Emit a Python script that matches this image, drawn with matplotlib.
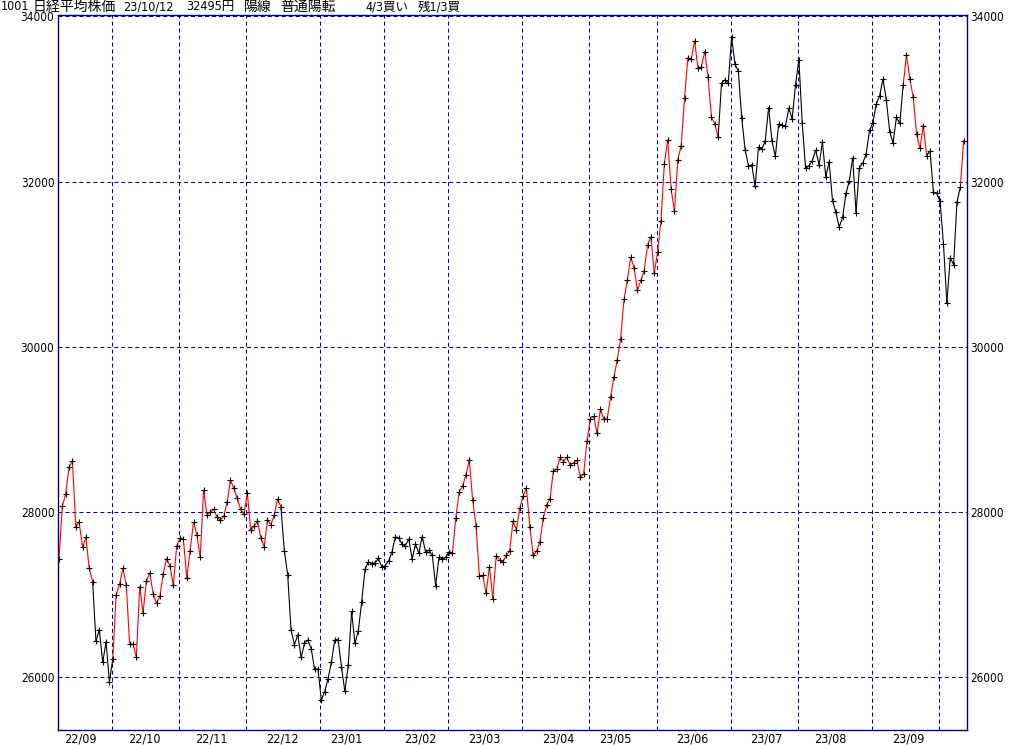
import matplotlib
matplotlib.use('Agg')
import matplotlib.pyplot as plt
from matplotlib.collections import LineCollection
import numpy as np
import pandas as pd

# daily closes, one list per month
sep22 = [27430, 28065, 28214, 28542, 28614, 27818, 27875, 27567, 27688, 27313, 27153, 26431, 26571, 26173, 26422, 25937]
oct22 = [26215, 26992, 27120, 27311, 27116, 26401, 26397, 26237, 27091, 26775, 27156, 27257, 27007, 26891, 26974, 27250, 27432, 27345, 27105, 27587]
nov22 = [27678, 27663, 27199, 27527, 27872, 27716, 27446, 28263, 27963, 27990, 28028, 27930, 27899, 27944, 28115, 28383, 28283, 28162, 28027, 27968]
dec22 = [28226, 27777, 27820, 27885, 27686, 27574, 27901, 27842, 27954, 28156, 28051, 27527, 27237, 26568, 26387, 26507, 26235, 26405, 26447, 26340, 26093, 26095]
jan23 = [25717, 25820, 25974, 26175, 26446, 26449, 26120, 25822, 26138, 26791, 26405, 26553, 26906, 27299, 27395, 27362, 27382, 27433, 27327]
feb23 = [27346, 27402, 27509, 27693, 27685, 27606, 27584, 27670, 27427, 27602, 27501, 27696, 27513, 27531, 27473, 27104, 27453, 27423, 27445]
mar23 = [27516, 27498, 27927, 28237, 28309, 28444, 28623, 28143, 27832, 27222, 27229, 27010, 27333, 26945, 27466, 27419, 27385, 27476, 27518, 27883, 27782, 28041]
apr23 = [28188, 28287, 27813, 27472, 27518, 27633, 27923, 28082, 28156, 28493, 28514, 28658, 28606, 28657, 28564, 28593, 28620, 28416, 28457, 28856]
may23 = [29123, 29157, 28949, 29242, 29122, 29126, 29388, 29626, 29842, 30093, 30573, 30808, 31086, 30957, 30682, 30801, 30916, 31233, 31328, 30887]
jun23 = [31148, 31524, 32217, 32506, 31913, 31641, 32265, 32434, 33018, 33502, 33485, 33706, 33370, 33388, 33575, 33264, 32781, 32698, 32538, 33193, 33234, 33189]
jul23 = [33753, 33422, 33338, 32773, 32388, 32189, 32203, 31943, 32419, 32391, 32493, 32896, 32490, 32304, 32700, 32682, 32668, 32891, 32759, 33172]
aug23 = [33476, 32707, 32159, 32192, 32254, 32377, 32204, 32473, 32059, 32238, 31766, 31626, 31450, 31565, 31856, 32010, 32287, 31624, 32169, 32226, 32333, 32619]
sep23 = [32710, 32939, 33036, 33241, 32991, 32606, 32467, 32776, 32706, 33168, 33533, 33242, 33023, 32571, 32402, 32678, 32315, 32371, 31872, 31857]
oct23 = [31759, 31237, 30526, 31075, 30994, 31746, 31936, 32495]

closes = np.array(sep22 + oct22 + nov22 + dec22 + jan23 + feb23 + mar23 + apr23
                  + may23 + jun23 + jul23 + aug23 + sep23 + oct23, dtype=float)

# market holidays on weekdays in the range
holidays = ['2022-09-19', '2022-09-23', '2022-10-10', '2022-11-03', '2022-11-23',
            '2023-01-02', '2023-01-03', '2023-01-09', '2023-02-23', '2023-03-21',
            '2023-05-03', '2023-05-04', '2023-05-05', '2023-07-17', '2023-08-11',
            '2023-09-18', '2023-10-09']
dates = pd.bdate_range('2022-09-07', '2023-10-12')
dates = dates[~dates.isin(pd.to_datetime(holidays))]
n = min(len(dates), len(closes))
dates, closes = dates[:n], closes[:n]

# periods drawn in red (uptrend signal)
red_runs = [('2022-09-07', '2022-09-22'), ('2022-10-03', '2022-12-15'),
            ('2023-03-02', '2023-06-27'), ('2023-09-14', '2023-09-26'),
            ('2023-10-11', '2023-10-12')]

yticks = [26000, 28000, 30000, 32000, 34000]
title_parts = ['1001', '日経平均株価', '23/10/12', '32495円', '陽線', '普通陽転', '4/3買い', '残1/3買']

navy = '#000080'
fam = ['DejaVu Sans', 'Noto Sans CJK JP']

x = np.arange(n)
in_red = np.zeros(n, dtype=bool)
for a, b in red_runs:
    in_red |= (dates >= pd.Timestamp(a)) & (dates <= pd.Timestamp(b))
seg_red = in_red[:-1] & in_red[1:]

fig = plt.figure(figsize=(10.24, 7.45), dpi=100)
ax = fig.add_axes([58.3 / 1024, 15 / 745, 908.4 / 1024, 715.5 / 745])

# month boundaries and labels
months = dates.to_period('M')
first_idx = [i for i in range(1, n) if months[i] != months[i - 1]]
label_pos, label_txt = [], []
for m in months.unique():
    idx = np.where((months == m) & (dates.day >= 15))[0]
    if len(idx) and m != months[-1]:
        label_pos.append(idx[0] + 0.4)
        label_txt.append(m.strftime('%y/%m'))

grid_style = dict(color=navy, linestyle=(0, (3.8, 2.9)), linewidth=0.75)
ax.set_xticks([i - 0.3 for i in first_idx], minor=True)
ax.set_xticks(label_pos, labels=label_txt)
ax.set_yticks(yticks)
ax.grid(True, which='minor', axis='x', **grid_style)
ax.grid(True, which='major', axis='y', **grid_style)

pts = np.column_stack([x, closes])
segs = np.stack([pts[:-1], pts[1:]], axis=1)
lc = LineCollection(segs, colors=np.where(seg_red, 'red', 'black'), linewidths=0.8, zorder=3)
ax.add_collection(lc)
ax.plot(x, closes, linestyle='none', marker='+', markersize=3.8, markeredgewidth=0.8,
        color='black', zorder=4)

ax.set_xlim(-0.2, 269.9)
ax.set_ylim(25354, 34024)

for s in ax.spines.values():
    s.set_color(navy)
    s.set_linewidth(1.0)

ax.tick_params(axis='y', which='both', length=0, pad=2.8, labelleft=True, labelright=True)
ax.tick_params(axis='x', which='both', length=0, pad=1.5)
for t in ax.yaxis.get_major_ticks():
    for lab in (t.label1, t.label2):
        lab.set_fontsize(8.5)
        lab.set_fontstretch('condensed')
for t in ax.xaxis.get_major_ticks():
    t.label1.set_fontsize(9)
    t.label1.set_fontstretch('condensed')

# header line, pieces placed at their pixel columns
starts = [1, 33, 123, 186, 244, 280, 365, 418]
sizes = [9, 10, 9, 9, 10, 10, 9, 9]
for txt, px, sz in zip(title_parts, starts, sizes):
    fig.text(px / 1024, 1 - 6.5 / 745, txt, fontsize=sz, va='center', ha='left',
             family=fam, fontstretch='condensed', zorder=5)

fig.savefig('out.png', dpi=100)
